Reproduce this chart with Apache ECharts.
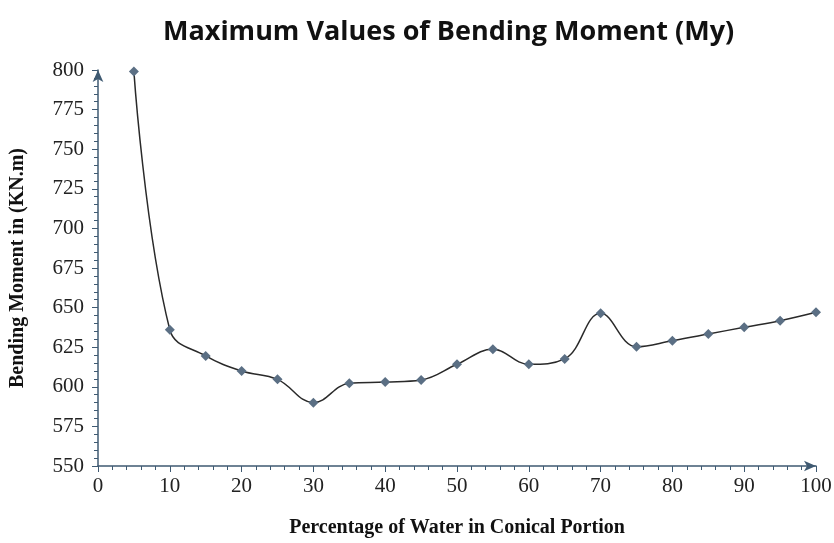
<!DOCTYPE html>
<html><head><meta charset="utf-8">
<script src="https://cdn.jsdelivr.net/npm/echarts@6/dist/echarts.min.js"></script>
<style>html,body{margin:0;padding:0;background:#fff}#c{width:834px;height:543px}</style>
</head><body><div id="c"></div>
<script>
const waterPercent = [5, 10, 15, 20, 25, 30, 35, 40, 45, 50, 55, 60, 65, 70, 75, 80, 85, 90, 95, 100];
const bendingMoment = [799, 636, 619.5, 610, 604.7, 590, 602.2, 603, 604.3, 614.2, 623.7, 614.2, 617.6, 646.4, 625.3, 629.1, 633.3, 637.6, 641.7, 647];
const chartTitle = 'Maximum Values of Bending Moment (My)';
const xName = 'Percentage of Water in Conical Portion';
const yName = 'Bending Moment in (KN.m)';

const axisColor = '#3f5a72';
const chart = echarts.init(document.getElementById('c'));
chart.setOption({
  animation: false,
  backgroundColor: '#fff',
  title: {
    text: chartTitle, left: 158, top: 14,
    textStyle: {fontFamily: 'Open Sans', fontWeight: 'bold', fontSize: 27, color: '#111'}
  },
  grid: {left: 98, right: 18, top: 70, bottom: 77, outerBoundsMode: 'none'},
  xAxis: {
    type: 'value', min: 0, max: 100, interval: 10,
    name: xName, nameLocation: 'middle', nameGap: 52,
    nameTextStyle: {fontFamily: 'Liberation Serif', fontWeight: 'bold', fontSize: 20, color: '#111'},
    axisLine: {lineStyle: {color: axisColor, width: 1.5}, symbol: ['none', 'arrow'], symbolSize: [8, 12]},
    axisTick: {show: true, length: 6, lineStyle: {color: axisColor}},
    minorTick: {show: true, splitNumber: 5, length: 4, lineStyle: {color: axisColor}},
    splitLine: {show: false},
    axisLabel: {fontFamily: 'Liberation Serif', fontSize: 21, color: '#222', margin: 10}
  },
  yAxis: {
    type: 'value', min: 550, max: 800, interval: 25,
    name: yName, nameLocation: 'middle', nameGap: 70,
    nameTextStyle: {fontFamily: 'Liberation Serif', fontWeight: 'bold', fontSize: 20, color: '#111'},
    axisLine: {show: true, lineStyle: {color: axisColor, width: 1.5}, symbol: ['none', 'arrow'], symbolSize: [8, 12]},
    axisTick: {show: true, length: 6, lineStyle: {color: axisColor}},
    minorTick: {show: true, splitNumber: 5, length: 4, lineStyle: {color: axisColor}},
    splitLine: {show: false},
    axisLabel: {fontFamily: 'Liberation Serif', fontSize: 21, color: '#222', margin: 14}
  },
  series: [{
    type: 'line',
    data: waterPercent.map((x, i) => [x, bendingMoment[i]]),
    smooth: 0.4,
    symbol: 'diamond', symbolSize: 10,
    lineStyle: {color: '#2a2a2a', width: 1.5},
    itemStyle: {color: '#5b6f84'}
  }]
});
</script></body></html>
